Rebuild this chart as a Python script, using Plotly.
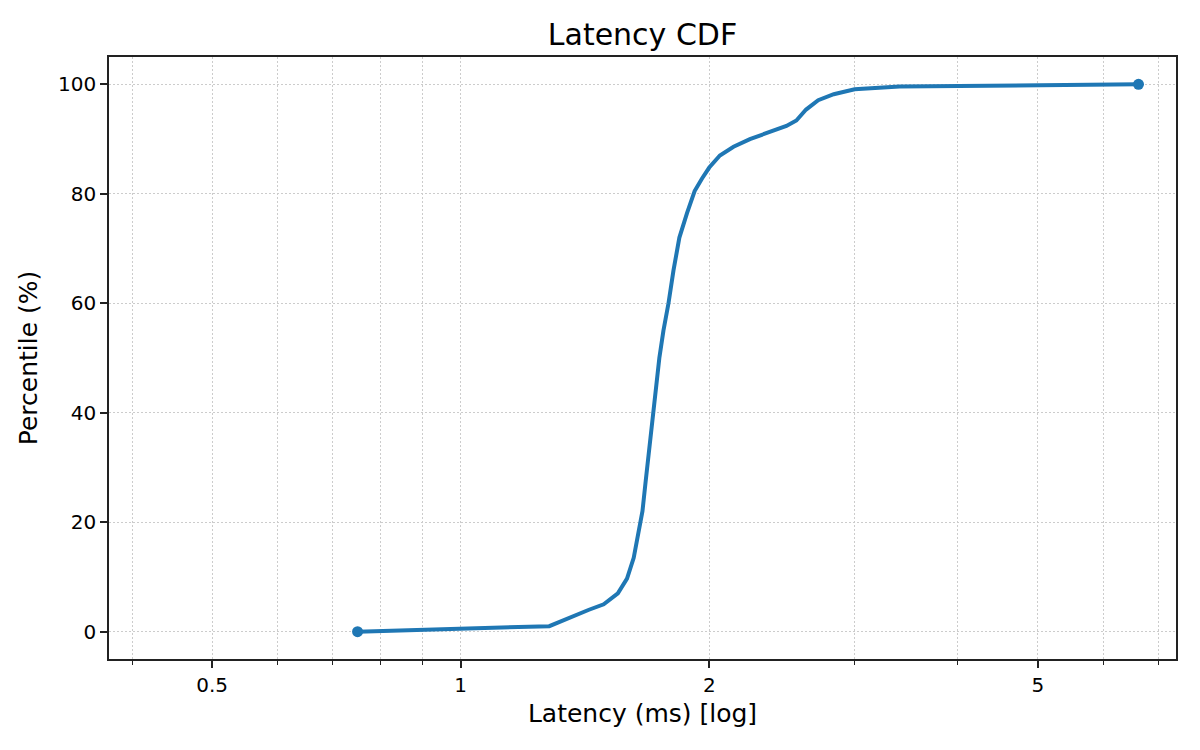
import numpy as np
import plotly.graph_objects as go

# latency CDF, values
latency_ms = [0.75, 1.28, 1.43, 1.49, 1.55, 1.59, 1.62, 1.64, 1.66, 1.675, 1.69, 1.71,
              1.74, 1.76, 1.785, 1.81, 1.84, 1.88, 1.92, 1.96, 2.00, 2.06, 2.14, 2.24,
              2.39, 2.48, 2.55, 2.62, 2.71, 2.83, 3.00, 3.40, 6.62]
percentile = [0, 1, 4, 5, 7, 9.7, 13.5, 18, 22, 27.5, 33, 40,
              50, 55, 60, 66, 72, 76.5, 80.5, 82.8, 84.8, 87, 88.6, 90,
              91.5, 92.4, 93.4, 95.4, 97.1, 98.2, 99.1, 99.6, 100]

x_major = [0.5, 1, 2, 5]
x_major_text = ['0.5', '1', '2', '5']
x_minor = [0.4, 0.6, 0.7, 0.8, 0.9, 3, 4, 6, 7]
y_ticks = [0, 20, 40, 60, 80, 100]

blue = '#1f77b4'
grid = '#cccccc'
frame = '#222222'
dots = '2px,2px'

fig = go.Figure()
fig.add_trace(go.Scatter(x=latency_ms, y=percentile, mode='lines',
                         line=dict(color=blue, width=4), hoverinfo='skip'))
fig.add_trace(go.Scatter(x=[latency_ms[0], latency_ms[-1]], y=[percentile[0], percentile[-1]],
                         mode='markers', marker=dict(color=blue, size=11), hoverinfo='skip'))

# page body has an 8px margin, so the figure is a bit smaller than the window
fig.update_layout(
    width=1192, height=742,
    margin=dict(l=101, r=24, t=49, b=91),
    paper_bgcolor='white', plot_bgcolor='white',
    showlegend=False,
    font=dict(family='DejaVu Sans', size=20, color='black'),
    title=dict(text='Latency CDF', x=(101 + 1168) / 2 / 1192, xanchor='center',
               y=1 - 37 / 742, yanchor='bottom', font=dict(size=30)),
)

fig.update_xaxes(
    type='log', range=[np.log10(0.375), np.log10(7.35)],
    tickmode='array', tickvals=x_major, ticktext=x_major_text,
    ticks='outside', ticklen=7, tickwidth=1.7, tickcolor=frame,
    showgrid=True, gridcolor=grid, gridwidth=1.3, griddash=dots,
    minor=dict(tickvals=x_minor, ticks='outside', ticklen=4, tickwidth=1.2, tickcolor=frame,
               showgrid=True, gridcolor=grid, gridwidth=1.3, griddash=dots),
    showline=True, mirror=True, linecolor=frame, linewidth=1.7,
    zeroline=False,
    title=dict(text='Latency (ms) [log]', font=dict(size=25), standoff=9),
)
fig.update_yaxes(
    range=[-5, 105],
    tickmode='array', tickvals=y_ticks,
    ticks='outside', ticklen=7, tickwidth=1.7, tickcolor=frame,
    showgrid=True, gridcolor=grid, gridwidth=1.3, griddash=dots,
    showline=True, mirror=True, linecolor=frame, linewidth=1.7,
    zeroline=False,
    title=dict(text='Percentile (%)', font=dict(size=25), standoff=13),
)

fig.write_html("out.html")
